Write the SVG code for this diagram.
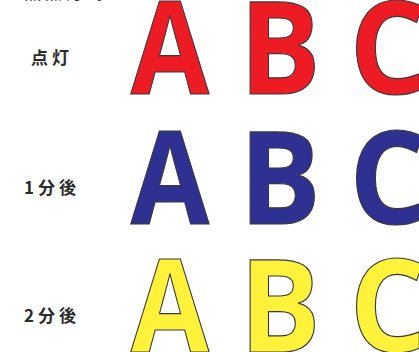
<svg xmlns="http://www.w3.org/2000/svg" width="419" height="352" viewBox="0 0 419 352">
<style>
.lbl{font-family:"Noto Sans CJK JP","Noto Sans",sans-serif;font-weight:700;font-size:17px;fill:#2b2b2b;letter-spacing:4px}
.big{font-family:"Open Sans","Noto Sans",sans-serif;font-weight:700;font-size:129px;stroke:#3a3a3a;stroke-width:1.2;text-anchor:middle}
.red{fill:#ED1C24}
.blue{fill:#2E3192}
.yellow{fill:#FFF23A}
</style>
<rect width="419" height="352" fill="#ffffff"/>
<g id="header">
<text class="lbl" x="24" y="-1.5">無点灯時</text>
</g>
<g id="row-lit">
<text class="lbl" x="31" y="64">点灯</text>
<text class="big red" transform="translate(170,94) scale(0.88,1)">A</text>
<text class="big red" transform="translate(280,94) scale(0.94,1)">B</text>
<text class="big red" transform="translate(388,94) scale(0.94,1)">C</text>
</g>
<g id="row-1min">
<text class="lbl" x="24" y="194">1分後</text>
<text class="big blue" transform="translate(170,224) scale(0.88,1)">A</text>
<text class="big blue" transform="translate(280,224) scale(0.94,1)">B</text>
<text class="big blue" transform="translate(388,224) scale(0.94,1)">C</text>
</g>
<g id="row-2min">
<text class="lbl" x="24" y="322">2分後</text>
<text class="big yellow" transform="translate(170,352) scale(0.88,1)">A</text>
<text class="big yellow" transform="translate(280,352) scale(0.94,1)">B</text>
<text class="big yellow" transform="translate(388,352) scale(0.94,1)">C</text>
</g>
</svg>
